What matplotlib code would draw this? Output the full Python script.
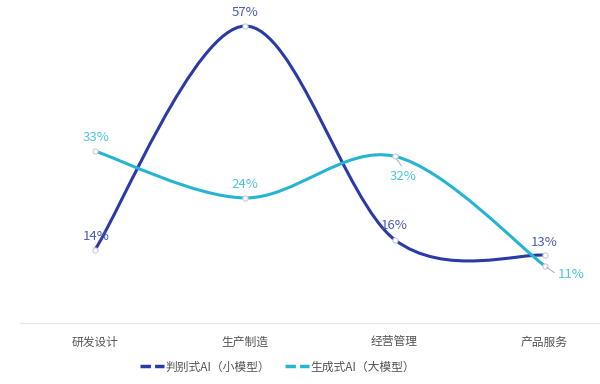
import numpy as np
import matplotlib
matplotlib.use("Agg")
import matplotlib.pyplot as plt
from matplotlib.lines import Line2D
from matplotlib.path import Path
from matplotlib.patches import PathPatch

plt.rcParams['font.family'] = ['Noto Sans CJK SC', 'DejaVu Sans']

categories = ['研发设计', '生产制造', '经营管理', '产品服务']
small_model = [14, 57, 16, 13]
large_model = [33, 24, 32, 11]
series_names = ['判别式AI（小模型）', '生成式AI（大模型）']

dark = '#2a3aa6'
light = '#25b4d2'


def smooth_path(xs, ys, k=1 / 6):
    # catmull-rom style bezier smoothing, endpoints reuse themselves as neighbours
    P = np.column_stack([xs, ys]).astype(float)
    n = len(P)
    verts = [P[0]]
    codes = [Path.MOVETO]
    for i in range(n - 1):
        p0 = P[max(i - 1, 0)]
        p3 = P[min(i + 2, n - 1)]
        c1 = P[i] + (P[i + 1] - p0) * k
        c2 = P[i + 1] - (p3 - P[i]) * k
        verts += [c1, c2, P[i + 1]]
        codes += [Path.CURVE4] * 3
    return Path(np.array(verts), codes)


fig = plt.figure(figsize=(6, 3.84), dpi=100)
ax = fig.add_axes([0.033, 0.159, 0.967, 0.841])
ax.set_xlim(-0.5, 3.37)
ax.set_ylim(0, 62)

x = np.arange(len(categories))
for vals, c in [(small_model, dark), (large_model, light)]:
    ax.add_patch(PathPatch(smooth_path(x, vals), fill=False, edgecolor=c, lw=2.2,
                           capstyle='round', zorder=2))
    ax.scatter(x, vals, s=14, facecolor='white', edgecolor='#c8cde0', lw=0.8, zorder=3)

dark_lbl = '#4a5cb8'
light_lbl = '#4fc3da'
dark_off = [(1, 10), (0, 10), (0, 10), (0, 9.5)]
light_off = [(1, 10), (0, 10), (6, -14.5), (19, -6.5)]
for i, v in enumerate(small_model):
    ax.annotate(f'{v}%', (x[i], v), xytext=dark_off[i], textcoords='offset points',
                ha='center', va='center', fontsize=9.5, color=dark_lbl)
for i, v in enumerate(large_model):
    ax.annotate(f'{v}%', (x[i], v), xytext=light_off[i], textcoords='offset points',
                ha='center', va='center', fontsize=9.5, color=light_lbl)
# little leader lines for the two labels set below their points
for i, off in [(2, (5, -7)), (3, (7, -5))]:
    ax.annotate('', (x[i], large_model[i]), xytext=off, textcoords='offset points',
                arrowprops=dict(arrowstyle='-', color='#b5b5b5', lw=0.8,
                                shrinkA=0, shrinkB=2))

ax.set_xticks(x)
ax.set_xticklabels(categories, fontsize=8.5, color='#555555')
ax.tick_params(axis='x', length=0, pad=9)
ax.set_yticks([])
for s in ['top', 'right', 'left']:
    ax.spines[s].set_visible(False)
ax.spines['bottom'].set_color('#e6e6e6')

handles = [Line2D([], [], color=dark, lw=2.5, ls=(0, (3, 1.2))),
           Line2D([], [], color=light, lw=2.5, ls=(0, (3, 1.2)))]
fig.legend(handles, series_names, loc='lower center', bbox_to_anchor=(0.4625, 0.0),
           ncol=2, frameon=False, fontsize=8.5, handlelength=2.0, handletextpad=0.1,
           columnspacing=1.3, labelcolor='#555555')

fig.savefig('out.png', dpi=100)
